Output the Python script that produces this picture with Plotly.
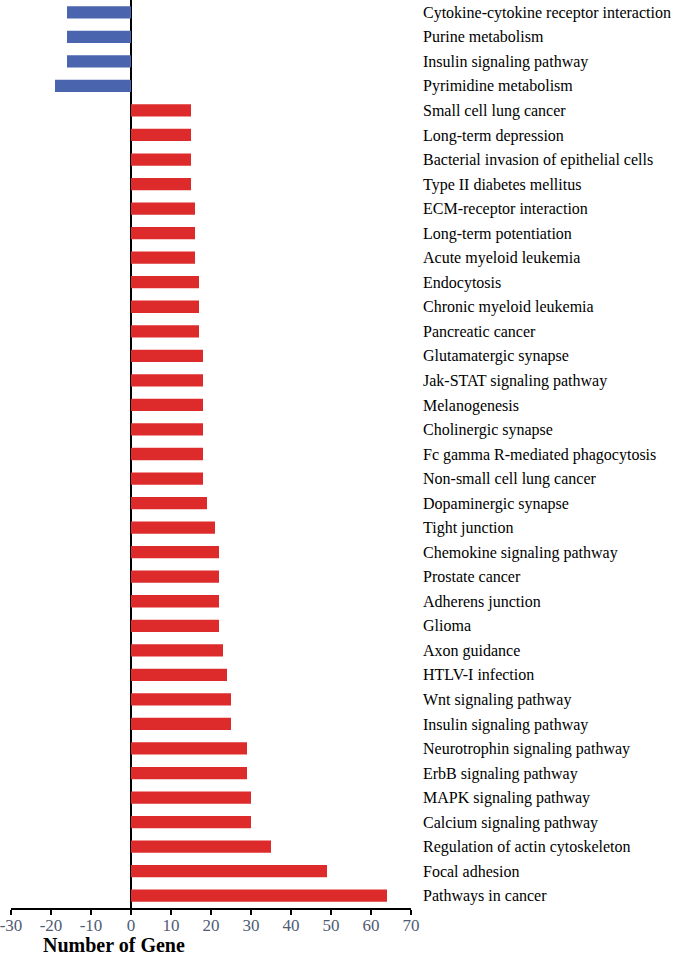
import plotly.graph_objects as go

pathways = [
    "Cytokine-cytokine receptor interaction", "Purine metabolism", "Insulin signaling pathway",
    "Pyrimidine metabolism", "Small cell lung cancer", "Long-term depression",
    "Bacterial invasion of epithelial cells", "Type II diabetes mellitus", "ECM-receptor interaction",
    "Long-term potentiation", "Acute myeloid leukemia", "Endocytosis", "Chronic myeloid leukemia",
    "Pancreatic cancer", "Glutamatergic synapse", "Jak-STAT signaling pathway", "Melanogenesis",
    "Cholinergic synapse", "Fc gamma R-mediated phagocytosis", "Non-small cell lung cancer",
    "Dopaminergic synapse", "Tight junction", "Chemokine signaling pathway", "Prostate cancer",
    "Adherens junction", "Glioma", "Axon guidance", "HTLV-I infection", "Wnt signaling pathway",
    "Insulin signaling pathway", "Neurotrophin signaling pathway", "ErbB signaling pathway",
    "MAPK signaling pathway", "Calcium signaling pathway", "Regulation of actin cytoskeleton",
    "Focal adhesion", "Pathways in cancer",
]
gene_counts = [
    -16, -16, -16, -19, 15, 15, 15, 15, 16, 16, 16, 17, 17, 17, 18, 18, 18, 18, 18, 18,
    19, 21, 22, 22, 22, 22, 23, 24, 25, 25, 29, 29, 30, 30, 35, 49, 64,
]
x_ticks = [-30, -20, -10, 0, 10, 20, 30, 40, 50, 60, 70]
x_tick_labels = [str(v) for v in x_ticks]

positions = list(range(len(pathways)))
colors = ["#4a64ae" if v < 0 else "#dd2b2b" for v in gene_counts]

fig = go.Figure(go.Bar(
    x=gene_counts, y=positions, orientation="h",
    marker=dict(color=colors, line=dict(width=0)),
    width=0.5,
))

fig.update_layout(
    width=675, height=955,
    margin=dict(l=11, r=264, t=0, b=47),
    plot_bgcolor="white", paper_bgcolor="white",
    showlegend=False,
    font=dict(family="Liberation Serif", color="black"),
    xaxis=dict(
        range=[-30, 70], tickvals=x_ticks, ticktext=x_tick_labels, showgrid=False,
        automargin=False, ticklabeloverflow="allow", ticklabelstandoff=-4,
        showline=True, linecolor="black", linewidth=1.5,
        ticks="outside", ticklen=5, tickwidth=1.5, tickcolor="black",
        tickfont=dict(family="Liberation Serif", size=17, color="#4f5b73"),
        zeroline=True, zerolinecolor="black", zerolinewidth=1.5,
    ),
    yaxis=dict(
        tickvals=positions, ticktext=pathways, side="right",
        range=[len(pathways) - 0.5, -0.5], automargin=False, ticklabeloverflow="allow",
        showgrid=False, showline=False, zeroline=False, ticks="",
        ticklabelstandoff=11,
        tickfont=dict(family="Liberation Serif", size=16, color="black"),
    ),
    annotations=[dict(
        text="<b>Number of Gene</b>", xref="paper", yref="paper",
        x=0.075, y=0, xanchor="left", yanchor="top", yshift=-24,
        showarrow=False, font=dict(family="Liberation Serif", size=20, color="black"),
    )],
)

fig.write_html("out.html", config={"displayModeBar": False},
               post_script="document.body.style.margin='0';")
